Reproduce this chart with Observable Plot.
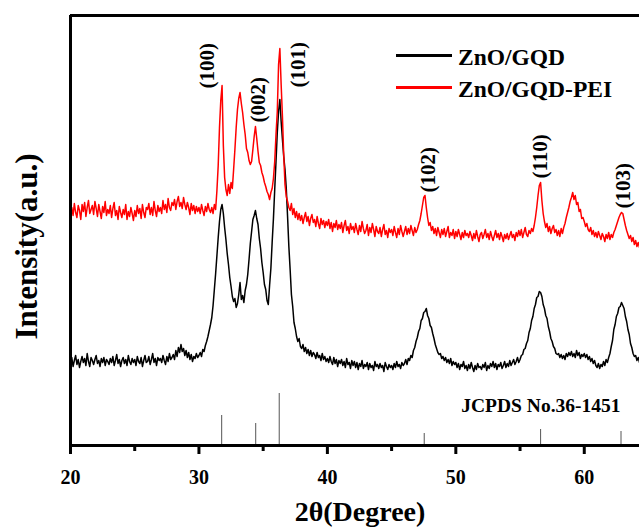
<!DOCTYPE html>
<html>
<head>
<meta charset="utf-8">
<script src="https://cdn.jsdelivr.net/npm/d3@7"></script>
<script src="https://cdn.jsdelivr.net/npm/@observablehq/plot@0.6"></script>
<style>
  body { margin: 0; background: #fff; }
  #wrap { position: relative; width: 639px; height: 527px; }
  .leg-line { position: absolute; height: 3px; }
  .leg-text { position: absolute; font-family: "Liberation Serif", "Times New Roman", serif; font-weight: bold; font-size: 23.5px; line-height: 24px; white-space: nowrap; color: #000; }
</style>
</head>
<body>
<div id="wrap"></div>
<script>
// scan grid: 2θ from 20° in 0.1° steps
const scanStart = 20;
const scanStep = 0.1;

// ZnO/GQD intensity (a.u.)
const znoGqd = [
  82,88,79,85,90,81,86,78,84,89,
  83,87,80,92,84,79,88,85,81,86,
  90,82,85,79,87,83,88,80,86,84,
  81,87,83,89,80,85,91,82,86,79,
  85,88,82,86,80,90,84,81,87,83,
  86,80,89,84,82,88,79,85,90,83,
  84,89,81,86,92,83,87,80,88,85,
  87,83,90,85,81,89,84,92,86,88,
  91,86,95,89,98,93,101,94,97,90,
  95,88,93,86,91,84,89,87,92,88,
  90,93,89,96,94,100,104,109,115,121,
  128,140,156,172,190,208,224,236,241,232,
  218,206,192,181,168,159,149,144,147,138,
  142,151,163,146,150,143,155,161,171,186,
  202,214,226,230,235,227,221,207,197,183,
  173,161,156,145,141,160,177,203,227,256,
  284,313,334,346,324,306,289,276,257,229,
  199,176,151,139,123,117,109,104,107,99,
  97,101,94,98,92,96,90,95,89,93,
  91,87,93,88,90,85,92,86,89,84,
  87,83,89,84,81,88,82,86,79,85,
  82,86,80,84,78,87,81,83,77,85,
  80,84,78,83,76,82,79,85,77,81,
  79,83,76,82,78,80,75,84,79,81,
  77,82,78,80,74,83,79,76,81,78,
  80,76,82,78,84,79,81,77,83,80,
  82,86,81,87,85,90,88,95,98,104,
  108,114,117,125,127,133,134,137,130,127,
  120,118,112,107,101,97,93,91,92,87,
  89,85,88,83,86,82,87,80,84,81,
  83,78,82,76,81,79,84,77,80,75,
  81,77,83,78,74,80,76,82,78,79,
  76,81,78,83,75,80,77,82,79,84,
  78,82,76,81,79,83,77,80,84,78,
  82,79,85,80,83,86,81,84,88,83,
  86,90,91,96,97,102,105,113,117,125,
  129,137,141,148,149,154,153,149,141,137,
  130,127,119,114,107,104,99,97,92,91,
  92,88,91,87,90,86,92,89,93,90,
  94,89,92,88,95,90,93,87,91,89,
  92,88,91,86,89,84,87,82,85,80,
  78,82,77,81,79,84,80,86,83,88,
  92,99,105,116,121,129,132,138,139,143,
  140,137,129,124,116,111,102,98,92,89,
  90,85,88,83
];

// ZnO/GQD-PEI intensity (a.u.)
const znoGqdPei = [
  225,238,230,242,233,228,240,235,226,241,
  234,243,229,238,245,232,236,240,231,244,
  237,229,241,234,227,239,233,244,230,236,
  232,240,228,237,243,230,235,226,239,233,
  228,236,231,241,226,234,229,238,232,225,
  235,229,240,232,237,227,241,233,228,238,
  236,242,231,238,230,244,235,229,240,234,
  238,232,245,236,241,233,247,238,235,243,
  240,246,236,244,249,239,243,237,248,241,
  236,243,238,231,242,235,240,232,239,234,
  238,232,241,235,230,239,234,242,236,233,
  238,232,241,236,255,280,318,345,360,300,
  268,256,250,261,252,263,257,276,296,318,
  336,347,353,342,333,321,311,297,293,285,
  281,284,296,309,319,307,294,283,280,273,
  269,263,259,254,251,246,253,257,267,284,
  311,334,381,397,361,329,291,261,249,244,
  238,235,242,231,237,228,234,226,232,225,
  230,222,228,233,224,229,220,227,231,223,
  226,219,229,222,217,227,221,225,218,224,
  220,226,217,223,214,222,218,225,216,221,
  217,223,213,220,225,215,219,212,222,216,
  219,213,222,216,211,220,214,224,217,212,
  215,221,210,218,213,222,216,209,219,214,
  212,218,209,216,221,211,215,208,217,213,
  216,210,219,213,208,217,211,220,214,209,
  214,219,211,217,212,220,215,210,218,213,
  216,221,225,232,240,248,250,238,228,220,
  223,215,219,212,217,210,218,213,208,216,
  211,217,209,214,219,208,213,210,216,207,
  214,209,216,211,206,213,208,215,210,212,
  208,214,210,205,212,207,215,209,204,211,
  213,207,211,216,208,212,206,214,209,205,
  210,215,208,212,206,213,209,204,211,207,
  212,206,210,214,208,211,205,213,209,215,
  210,216,208,213,218,211,209,215,212,217,
  214,220,228,238,250,260,263,245,232,224,
  218,222,214,219,212,217,220,213,216,210,
  215,209,217,212,218,222,228,233,238,244,
  248,253,246,250,241,243,234,236,227,228,
  224,219,222,216,214,218,211,215,209,213,
  208,214,210,206,212,209,204,211,207,213,
  206,211,208,213,216,220,224,228,231,233,
  232,226,220,215,211,207,210,204,208,201,
  205,199,203,198
];

// JCPDS No.36-1451 reference lines
const jcpdsTheta = [31.77, 34.42, 36.25, 47.54, 56.60, 62.86];
const jcpdsIntensity = [30, 22, 52, 12, 16, 14];

// peak labels (hkl) and their anchor positions
const hklLabels = ["(100)", "(002)", "(101)", "(102)", "(110)", "(103)"];
const hklTheta = [30.67, 34.64, 37.76, 47.88, 56.60, 63.07];
const hklIntensity = [357, 323, 358, 253, 267, 237];

const seriesNames = ["ZnO/GQD", "ZnO/GQD-PEI"];
const seriesColors = ["#000000", "#ff0000"];
const majorTicks = [20, 30, 40, 50, 60];
const minorTicks = [25, 35, 45, 55];

const theta = znoGqd.map((_, i) => +(scanStart + i * scanStep).toFixed(1));
const rows = [];
theta.forEach((t, i) => rows.push({theta: t, y: znoGqd[i], s: seriesNames[0]}));
theta.forEach((t, i) => rows.push({theta: t, y: znoGqdPei[i], s: seriesNames[1]}));
const sticks = jcpdsTheta.map((t, i) => ({theta: t, y: jcpdsIntensity[i]}));
const labels = hklLabels.map((l, i) => ({label: l, theta: hklTheta[i], y: hklIntensity[i]}));

const serif = "'Liberation Serif', 'Times New Roman', serif";

const chart = Plot.plot({
  width: 639,
  height: 527,
  marginLeft: 70,
  marginRight: 0,
  marginTop: 15,
  marginBottom: 82,
  style: {fontFamily: serif, fontWeight: "bold", background: "#fff"},
  x: {domain: [20, 64.3]},
  y: {domain: [0, 430], axis: null},
  color: {domain: seriesNames, range: seriesColors},
  marks: [
    Plot.lineY(rows, {x: "theta", y: "y", stroke: "s", z: "s", strokeWidth: 1.5}),
    Plot.ruleX(sticks, {x: "theta", y1: 0, y2: "y", stroke: "#555", strokeWidth: 1}),
    Plot.text(labels, {x: "theta", y: "y", text: "label", rotate: -90, textAnchor: "start", lineAnchor: "middle", fontSize: 21, fontWeight: "bold", fill: "#000"}),
    Plot.axisX(minorTicks, {tickSize: 6, tickFormat: () => "", stroke: "#000", strokeWidth: 3, label: null}),
    Plot.axisX(majorTicks, {tickSize: 9, tickPadding: 15, tickFormat: d3.format("d"), fontSize: 20, fontWeight: "bold", stroke: "#000", strokeWidth: 3, label: null, fill: "#000"}),
    Plot.ruleY([0], {strokeWidth: 3, stroke: "#000"}),
    Plot.ruleY([430], {strokeWidth: 3, stroke: "#000"}),
    Plot.ruleX([20], {y1: 0, y2: 430, strokeWidth: 3, stroke: "#000"}),
    Plot.text(["JCPDS No.36-1451"], {frameAnchor: "bottom-right", textAnchor: "end", lineAnchor: "middle", dx: -19, dy: -40, fontSize: 19.5, fontWeight: "bold", fill: "#000"}),
    Plot.text(["2θ(Degree)"], {frameAnchor: "bottom", textAnchor: "middle", lineAnchor: "middle", dx: 5, dy: 67, fontSize: 28, fontWeight: "bold", fill: "#000"}),
    Plot.text(["Intensity(a.u.)"], {frameAnchor: "left", rotate: -90, textAnchor: "middle", lineAnchor: "middle", dx: -43, dy: 16, fontSize: 31, fontWeight: "bold", fill: "#000"})
  ]
});

const wrap = document.getElementById("wrap");
wrap.appendChild(chart);

// legend
const legendTop = [55, 87];
seriesNames.forEach((name, i) => {
  const line = document.createElement("div");
  line.className = "leg-line";
  line.style.left = "396px";
  line.style.width = "56px";
  line.style.top = (legendTop[i] - 1) + "px";
  line.style.background = seriesColors[i];
  wrap.appendChild(line);
  const t = document.createElement("div");
  t.className = "leg-text";
  t.style.left = "458px";
  t.style.top = (legendTop[i] - 10) + "px";
  t.textContent = name;
  wrap.appendChild(t);
});
</script>
</body>
</html>
